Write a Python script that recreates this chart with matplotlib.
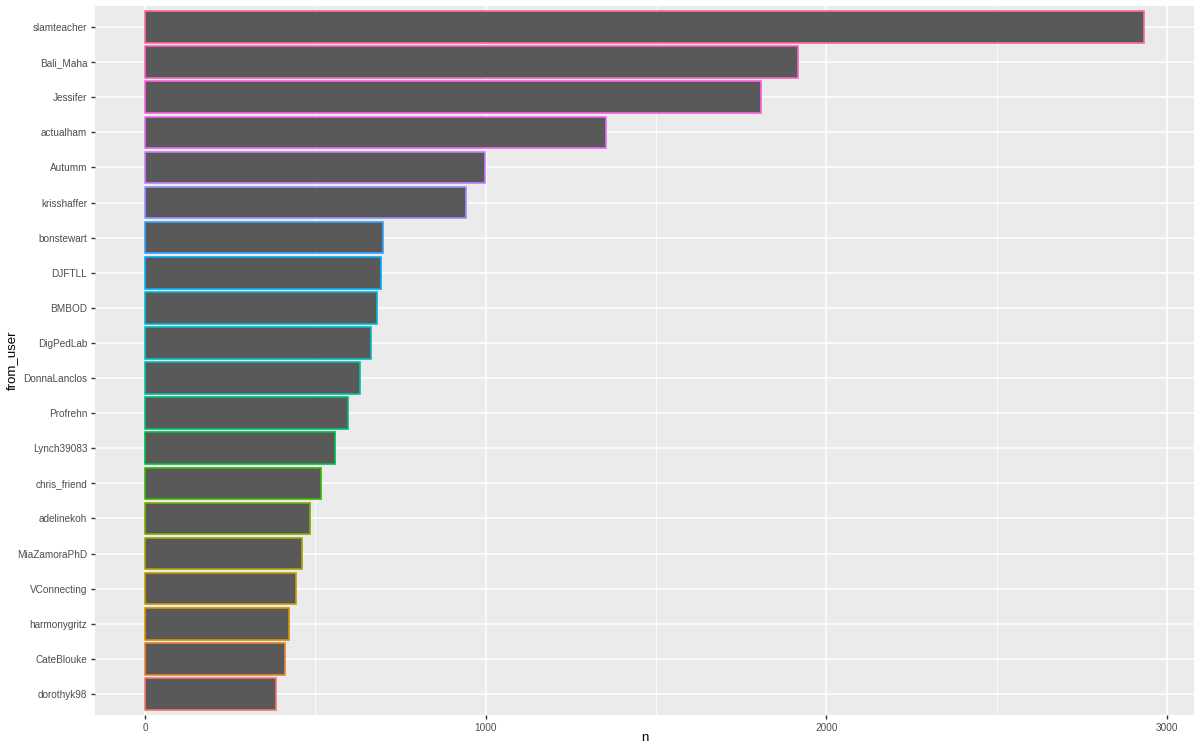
import numpy as np
import matplotlib
matplotlib.use("Agg")
import matplotlib.pyplot as plt
from matplotlib.ticker import MultipleLocator

# Data (ordered from top to bottom as in the chart)
users = ["slamteacher", "Bali_Maha", "Jessifer", "actualham", "Autumm",
         "krisshaffer", "bonstewart", "DJFTLL", "BMBOD", "DigPedLab",
         "DonnaLanclos", "Profrehn", "Lynch39083", "chris_friend", "adelinekoh",
         "MiaZamoraPhD", "VConnecting", "harmonygritz", "CateBlouke", "dorothyk98"]
counts = [2932, 1917, 1808, 1354, 997,
          943, 698, 692, 680, 663,
          632, 595, 559, 516, 485,
          461, 442, 422, 410, 386]


def hcl_to_rgb(h, c, l):
    hr = np.deg2rad(h)
    u = c * np.cos(hr)
    v = c * np.sin(hr)
    Xn, Yn, Zn = 95.047, 100.0, 108.883
    Y = Yn * ((l + 16) / 116) ** 3 if l > 8 else Yn * l / 903.3
    un = 4 * Xn / (Xn + 15 * Yn + 3 * Zn)
    vn = 9 * Yn / (Xn + 15 * Yn + 3 * Zn)
    up = u / (13 * l) + un
    vp = v / (13 * l) + vn
    X = 9 * Y * up / (4 * vp)
    Z = Y * (12 - 3 * up - 20 * vp) / (4 * vp)
    X, Y, Z = X / 100, Y / 100, Z / 100
    r = 3.240479 * X - 1.537150 * Y - 0.498535 * Z
    g = -0.969256 * X + 1.875992 * Y + 0.041556 * Z
    b = 0.055648 * X - 0.204043 * Y + 1.057311 * Z

    def gam(t):
        t = 12.92 * t if t <= 0.0031308 else 1.055 * t ** (1 / 2.4) - 0.055
        return min(max(t, 0), 1)
    return (gam(r), gam(g), gam(b))


n = len(users)
hues = np.linspace(15, 375, n + 1)[:n]
# level 1 (smallest, bottom) gets first hue
colors_by_level = [hcl_to_rgb(h % 360, 100, 65) for h in hues]

plt.rcParams['font.family'] = ['Liberation Sans', 'DejaVu Sans']

W, H = 1200, 750
L, R, T, B = 95, 1194, 6, 715
fig = plt.figure(figsize=(12, 7.5), dpi=100)
ax = fig.add_axes([L / W, 1 - B / H, (R - L) / W, (B - T) / H])
ax.set_facecolor('#EBEBEB')

ypos = np.arange(n, 0, -1)  # top item highest
for i, (u_, c_) in enumerate(zip(users, counts)):
    level = n - 1 - i
    ax.barh(ypos[i], c_, height=0.9, color='#595959',
            edgecolor=colors_by_level[level], linewidth=1.2, zorder=3)

xmax = max(counts)
ax.set_xlim(-0.05 * xmax, 1.05 * xmax)
ax.set_ylim(0.4, n + 0.6)
ax.xaxis.set_major_locator(MultipleLocator(1000))
ax.xaxis.set_minor_locator(MultipleLocator(500))
ax.set_yticks(ypos)
ax.set_yticklabels(users)

ax.grid(which='major', color='white', linewidth=1.1, zorder=0)
ax.grid(which='minor', axis='x', color='white', linewidth=0.55, zorder=0)
ax.set_axisbelow(True)
for s in ax.spines.values():
    s.set_visible(False)

ax.tick_params(axis='both', which='major', colors='#333333', length=3.0, width=1,
               labelcolor='#4D4D4D', labelsize=7.2, pad=2.5)
ax.tick_params(axis='x', which='minor', length=0)

fig.text((L + R) / 2 / W, 1 - 738 / H, 'n', ha='center', va='center',
         fontsize=9.5, color='black')
fig.text(12 / W, 1 - (T + B) / 2 / H, 'from_user', ha='center', va='center',
         rotation=90, fontsize=9.5, color='black')

fig.savefig('out.png', dpi=100)
